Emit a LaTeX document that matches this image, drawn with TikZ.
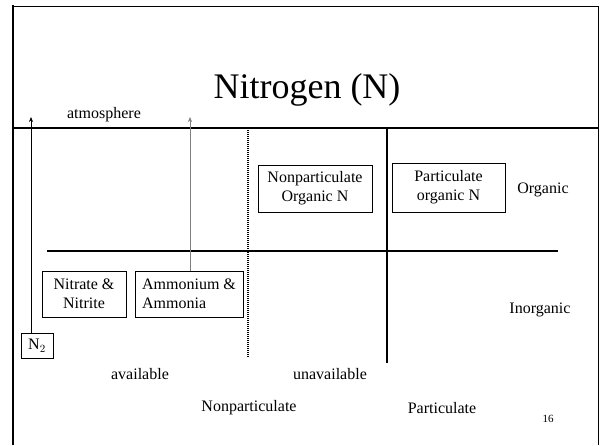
\documentclass[tikz,border=0pt]{standalone}
\usepackage{fontspec}
\setmainfont{Liberation Serif}
\usetikzlibrary{arrows.meta}

\begin{document}
\begin{tikzpicture}[
    x=1pt, y=-1pt,
    every node/.style={font=\fontsize{16}{19}\selectfont, inner sep=0pt},
    pool/.style={rectangle, draw=black, line width=0.9pt, align=center},
    divider/.style={line width=1.4pt},
    flux/.style={line width=0.6pt, -{Stealth[length=5pt, width=4pt]}}
]
  \useasboundingbox (0,0) rectangle (602,445);

  % slide frame
  \draw[line width=0.8pt] (12,6) -- (598,6) -- (598,445);
  \draw[line width=2.6pt] (13,5) -- (13,445);

  \node (title) at (307,90) {\fontsize{36}{40}\selectfont Nitrogen (N)};
  \node (atmo) at (104,115) {atmosphere};

  % dividers
  \draw[divider] (12,128) -- (598,128);
  \draw[divider] (47,251) -- (558,251);
  \draw[divider] (387,128) -- (387,363);
  \draw[line width=1.4pt, dash pattern=on 1pt off 1pt] (248,128) -- (248,358);

  % pools
  \node[pool, minimum width=114pt, minimum height=47pt] (donorg) at (315,188.5)
    {Nonparticulate\\Organic N};
  \node[pool, minimum width=113pt, minimum height=49pt] (porg) at (448.5,187.5)
    {Particulate\\organic N};
  \node[pool, minimum width=84pt, minimum height=46pt] (nitrate) at (84,294)
    {Nitrate \&\\Nitrite};
  \node[pool, minimum width=108pt, minimum height=46pt, align=left] (ammon) at (189,294)
    {Ammonium \&\\Ammonia\hspace{30pt}};
  \node[pool, minimum width=32pt, minimum height=25pt] (ntwo) at (37,345.5) {N$_2$};

  % labels
  \node (organic) at (543,190) {Organic};
  \node (inorganic) at (540,310) {Inorganic};
  \node (avail) at (140,374) {available};
  \node (unavail) at (330,374) {unavailable};
  \node (nonpart) at (249,408) {Nonparticulate};
  \node (part) at (442,408) {Particulate};
  \node (page) at (548,419) {\fontsize{11}{13}\selectfont 16};

  % losses to the atmosphere
  \coordinate (upntwo) at (31,117);
  \coordinate (upammon) at (190,117);
  \draw[flux] (upntwo |- ntwo.north) -- (upntwo);
  \draw[flux, draw=gray, fill=black] (upammon |- ammon.north) -- (upammon);

\end{tikzpicture}
\end{document}
